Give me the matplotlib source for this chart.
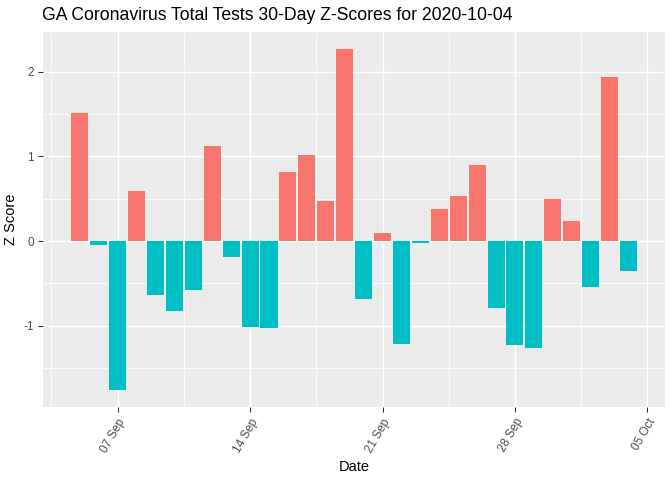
import numpy as np
import pandas as pd
import matplotlib
matplotlib.use("Agg")
import matplotlib.pyplot as plt
import matplotlib.dates as mdates

dates = pd.date_range("2020-09-05", "2020-10-04", freq="D")
z_scores = [1.51, -0.05, -1.756, 0.59, -0.64, -0.825, -0.58, 1.12, -0.19, -1.014,
            -1.026, 0.81, 1.01, 0.47, 2.263, -0.68, 0.094, -1.214, -0.024, 0.377,
            0.53, 0.896, -0.79, -1.226, -1.261, 0.495, 0.236, -0.542, 1.933, -0.354]
tick_dates = pd.to_datetime(["2020-09-07", "2020-09-14", "2020-09-21", "2020-09-28", "2020-10-05"])
y_ticks = [-1, 0, 1, 2]

plt.rcParams['font.family'] = ['Liberation Sans', 'DejaVu Sans']
plt.rcParams['axes.unicode_minus'] = False

fig = plt.figure(figsize=(7, 5), dpi=96)
ax = fig.add_axes([0.064, 0.152, 0.926, 0.781])
ax.set_facecolor('#EBEBEB')

colors = ['#F8766D' if z > 0 else '#00BFC4' for z in z_scores]
x = mdates.date2num(dates)
ax.bar(x, z_scores, width=0.9, color=colors, zorder=3)

# ggplot-like expansion (5%)
xlo, xhi = x.min() - 0.45, x.max() + 0.45
ax.set_xlim(xlo - 0.05 * (xhi - xlo), xhi + 0.05 * (xhi - xlo))
ylo, yhi = min(z_scores), max(z_scores)
ax.set_ylim(ylo - 0.05 * (yhi - ylo), yhi + 0.05 * (yhi - ylo))

tnum = mdates.date2num(tick_dates)
ax.set_xticks(tnum)
ax.set_xticklabels([d.strftime("%d %b") for d in tick_dates], rotation=60,
                   ha='right', va='top', rotation_mode='anchor')
ax.set_xticks((tnum[:-1] + tnum[1:]) / 2, minor=True)
ax.set_yticks(y_ticks)
ax.set_yticks([-1.5, -0.5, 0.5, 1.5], minor=True)

ax.grid(which='major', color='white', linewidth=1.1, zorder=0)
ax.grid(which='minor', color='white', linewidth=0.55, zorder=0)
# extra minor line before first major tick
ax.axvline(tnum[0] - 3.5, color='white', linewidth=0.55, zorder=0)
ax.set_axisbelow(True)

for s in ax.spines.values():
    s.set_visible(False)
ax.tick_params(which='major', length=3.5, width=0.8, color='#333333',
               labelsize=8.8, labelcolor='#4D4D4D')
ax.tick_params(which='minor', length=0)

ax.set_xlabel('Date', fontsize=11, color='black')
ax.set_ylabel('Z Score', fontsize=11, color='black')
fig.text(0.062, 0.968, 'GA Coronavirus Total Tests 30-Day Z-Scores for 2020-10-04',
         fontsize=13.2, ha='left', va='center')

fig.savefig('out.png', dpi=96)
